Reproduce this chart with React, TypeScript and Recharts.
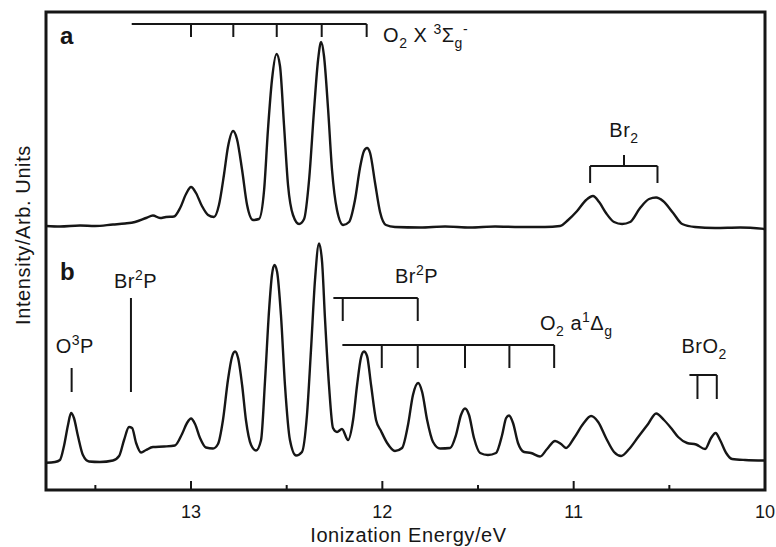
import React from 'react';
import {
  LineChart,
  Line,
  XAxis,
  YAxis,
  ReferenceArea,
  ReferenceLine,
  ReferenceDot,
} from 'recharts';

const FONT = "'Liberation Sans', Arial, Helvetica, sans-serif";
const INK = '#161616';

// trace (a): ionization energies (eV) and intensity (arb.)
const energyA = [
  13.758, 13.685, 13.58, 13.502, 13.408, 13.345, 13.293, 13.235, 13.199, 13.162,
  13.131, 13.089, 13.057, 13.026, 13.0, 12.974, 12.943, 12.911, 12.88, 12.854,
  12.828, 12.807, 12.78, 12.76, 12.733, 12.707, 12.676, 12.645, 12.618, 12.598,
  12.577, 12.553, 12.535, 12.514, 12.493, 12.467, 12.435, 12.409, 12.383, 12.357,
  12.336, 12.32, 12.305, 12.284, 12.263, 12.237, 12.205, 12.174, 12.143, 12.117,
  12.096, 12.08, 12.064, 12.038, 12.012, 11.981, 11.934, 11.803, 11.672, 11.542,
  11.411, 11.28, 11.15, 11.071, 11.029, 10.982, 10.935, 10.899, 10.867, 10.831,
  10.789, 10.747, 10.705, 10.653, 10.606, 10.569, 10.533, 10.48, 10.433, 10.366,
  10.261, 10.13, 10.0,
];
const countsA = [
  264, 263.5, 264.5, 264, 265.5, 266.5, 268, 272, 274.5, 272,
  273, 273.5, 282, 296, 303, 297, 284, 275, 273, 285,
  315, 343, 359, 351, 320, 285, 270, 271, 300, 360,
  410, 436, 424, 365, 305, 275, 266, 271, 310, 380,
  430, 448, 434, 382, 320, 280, 265, 268, 290, 322,
  339, 342, 337, 307, 278, 265, 263, 262.5, 263.5, 262.5,
  263.5, 263, 263, 264, 270, 279, 290, 294, 288, 277,
  268, 266, 268, 282, 291, 292.5, 289, 277, 266, 263,
  262, 262.5, 261,
];

// trace (b): after the discharge
const energyB = [
  13.758, 13.711, 13.685, 13.664, 13.643, 13.627, 13.612, 13.591, 13.565, 13.533,
  13.476, 13.408, 13.376, 13.35, 13.324, 13.308, 13.287, 13.261, 13.235, 13.199,
  13.141, 13.084, 13.047, 13.021, 13.0, 12.979, 12.953, 12.922, 12.885, 12.859,
  12.833, 12.807, 12.786, 12.77, 12.754, 12.733, 12.713, 12.686, 12.66, 12.634,
  12.613, 12.592, 12.577, 12.564, 12.55, 12.53, 12.509, 12.483, 12.451, 12.42,
  12.394, 12.373, 12.352, 12.331, 12.315, 12.3, 12.279, 12.258, 12.237, 12.211,
  12.179, 12.153, 12.132, 12.111, 12.096, 12.08, 12.059, 12.033, 12.007, 11.975,
  11.934, 11.897, 11.866, 11.84, 11.813, 11.792, 11.766, 11.735, 11.698, 11.646,
  11.615, 11.589, 11.568, 11.547, 11.521, 11.489, 11.448, 11.406, 11.374, 11.353,
  11.338, 11.317, 11.291, 11.259, 11.223, 11.176, 11.139, 11.097, 11.066, 11.04,
  10.998, 10.951, 10.909, 10.872, 10.831, 10.789, 10.752, 10.71, 10.663, 10.611,
  10.569, 10.528, 10.491, 10.454, 10.407, 10.36, 10.313, 10.282, 10.258, 10.235,
  10.203, 10.172, 10.104, 10.0,
];
const countsB = [
  27.3, 28, 30, 44, 65, 77, 72, 54, 35, 28.5,
  28, 29.5, 34, 50, 63, 62, 47, 37.5, 40, 43,
  43.5, 44.5, 56, 67, 71.5, 66, 52, 42.5, 41.5, 46,
  70, 110, 133, 138.5, 132, 105, 70, 45, 39.5, 50,
  110, 180, 215, 225, 218, 175, 105, 50, 34.5, 38,
  75, 140, 210, 246.5, 228, 172, 105, 62, 58, 61,
  50, 70, 105, 133, 138.5, 134, 105, 70, 59, 47,
  39, 42, 65, 95, 107, 98, 70, 48, 41.5, 42,
  55, 75, 81.5, 75, 52, 37, 35, 37, 55, 72,
  74.5, 67, 47, 38, 37, 33.5, 41, 49, 46, 42,
  52, 66, 74, 68, 52, 38, 34, 41, 53, 66,
  76.5, 70, 62, 53, 47, 45.5, 41, 52, 57, 50,
  37, 31, 30, 29.5,
];

const xDomain = [10, 13.758];
const yDomain = [0, 478];
const xTicks = [10, 10.5, 11, 11.5, 12, 12.5, 13, 13.5];

// vibrational progressions of O2+ from the X and a states
const xStateLines = [13.0, 12.779, 12.552, 12.317, 12.082];
const aStateLines = [12.003, 11.815, 11.568, 11.336, 11.102];

type Seg = [number, number, number, number];
const markers: Seg[] = [
  [13.31, 466, 12.082, 466],
  ...xStateLines.map((e): Seg => [e, 466, e, 453]),
  [10.914, 324, 10.562, 324],
  [10.914, 324, 10.914, 307],
  [10.562, 324, 10.562, 307],
  [10.737, 324, 10.737, 335],
  [13.624, 122, 13.624, 98],
  [13.314, 192, 13.314, 98],
  [12.256, 192, 11.815, 192],
  [12.207, 192, 12.207, 169],
  [11.815, 192, 11.815, 169],
  [12.209, 145, 11.102, 145],
  ...aStateLines.map((e): Seg => [e, 145, e, 122]),
  [10.395, 115, 10.252, 115],
  [10.353, 115, 10.353, 91],
  [10.252, 115, 10.252, 91],
];

type Part = [string, ('sub' | 'sup')?];
interface Note {
  e: number;
  v: number;
  parts: Part[];
  bold?: boolean;
  anchor?: 'start' | 'middle';
}
const notes: Note[] = [
  { e: 13.685, v: 446, parts: [['a']], bold: true },
  { e: 13.685, v: 210, parts: [['b']], bold: true },
  { e: 11.996, v: 448, parts: [['O'], ['2', 'sub'], [' X '], ['3', 'sup'], ['Σ'], ['g', 'sub'], ['-', 'sup']] },
  { e: 10.737, v: 353, parts: [['Br'], ['2', 'sub']], anchor: 'middle' },
  { e: 13.707, v: 137, parts: [['O'], ['3', 'sup'], ['P']] },
  { e: 13.403, v: 202, parts: [['Br'], ['2', 'sup'], ['P']] },
  { e: 11.934, v: 207, parts: [['Br'], ['2', 'sup'], ['P']] },
  { e: 11.176, v: 160, parts: [['O'], ['2', 'sub'], [' a'], ['1', 'sup'], ['Δ'], ['g', 'sub']] },
  { e: 10.437, v: 137, parts: [['BrO'], ['2', 'sub']] },
];

const traceA = energyA.map((e, i) => ({ e, v: countsA[i] }));
const traceB = energyB.map((e, i) => ({ e, v: countsB[i] }));

function RichText({ x, y, note }: { x: number; y: number; note: Note }) {
  const size = note.bold ? 24 : 20;
  let shift = 0;
  return (
    <text
      x={x}
      y={y}
      textAnchor={note.anchor || 'start'}
      fontFamily={FONT}
      fontSize={size}
      fontWeight={note.bold ? 'bold' : 'normal'}
      fill={INK}
      letterSpacing={note.bold ? 0 : 0.5}
    >
      {note.parts.map(([t, kind], i) => {
        const target = kind === 'sub' ? 6 : kind === 'sup' ? -8 : 0;
        const dy = target - shift;
        shift = target;
        return (
          <tspan key={i} dy={dy} fontSize={kind ? 14 : size}>
            {t}
          </tspan>
        );
      })}
    </text>
  );
}

function EnergyTick(props: any) {
  const { x, y, payload } = props;
  const major = Number.isInteger(payload.value);
  return (
    <g>
      <line x1={x} x2={x} y1={y} y2={y - (major ? 9 : 5)} stroke={INK} strokeWidth={2} />
      {major && (
        <text x={x} y={y + 28} textAnchor="middle" fontFamily={FONT} fontSize={18} fill={INK}>
          {payload.value}
        </text>
      )}
    </g>
  );
}

export default function App() {
  return (
    <div style={{ position: 'absolute', left: 0, top: 0, background: '#fff' }}>
      <LineChart width={776} height={547} margin={{ top: 12, right: 11, bottom: 0, left: 0 }}>
        <XAxis
          dataKey="e"
          type="number"
          domain={xDomain}
          reversed
          allowDataOverflow
          ticks={xTicks}
          interval={0}
          tickSize={0}
          tickMargin={0}
          tickLine={false}
          axisLine={false}
          tick={<EnergyTick />}
          height={57}
          label={{
            content: ({ viewBox }: any) => (
              <text
                x={viewBox.x + viewBox.width / 2 + 3}
                y={viewBox.y + 52}
                textAnchor="middle"
                fontFamily={FONT}
                fontSize={20}
                letterSpacing={0.6}
                fill={INK}
              >
                Ionization Energy/eV
              </text>
            ),
          }}
        />
        <YAxis
          type="number"
          domain={yDomain}
          allowDataOverflow
          width={46}
          tick={false}
          tickLine={false}
          axisLine={false}
          label={{
            content: () => (
              <text
                x={30}
                y={235}
                transform="rotate(-90 30 235)"
                textAnchor="middle"
                fontFamily={FONT}
                fontSize={20}
                letterSpacing={0.6}
                fill={INK}
              >
                Intensity/Arb. Units
              </text>
            ),
          }}
        />
        <ReferenceArea
          x1={xDomain[0]}
          x2={xDomain[1]}
          y1={yDomain[0]}
          y2={yDomain[1]}
          fill="none"
          stroke={INK}
          strokeWidth={3}
          ifOverflow="visible"
        />
        {markers.map(([x1, y1, x2, y2], i) => (
          <ReferenceLine
            key={`m-${i}`}
            segment={[
              { x: x1, y: y1 },
              { x: x2, y: y2 },
            ]}
            stroke={INK}
            strokeWidth={2}
            ifOverflow="visible"
          />
        ))}
        <Line
          data={traceA}
          dataKey="v"
          type="monotone"
          stroke={INK}
          strokeWidth={2.4}
          dot={false}
          isAnimationActive={false}
        />
        <Line
          data={traceB}
          dataKey="v"
          type="monotone"
          stroke={INK}
          strokeWidth={2.4}
          dot={false}
          isAnimationActive={false}
        />
        {notes.map((n, i) => (
          <ReferenceDot
            key={`n-${i}`}
            x={n.e}
            y={n.v}
            r={0}
            fill="none"
            stroke="none"
            ifOverflow="visible"
            label={{
              content: ({ viewBox }: any) => <RichText x={viewBox.x} y={viewBox.y} note={n} />,
            }}
          />
        ))}
      </LineChart>
    </div>
  );
}
